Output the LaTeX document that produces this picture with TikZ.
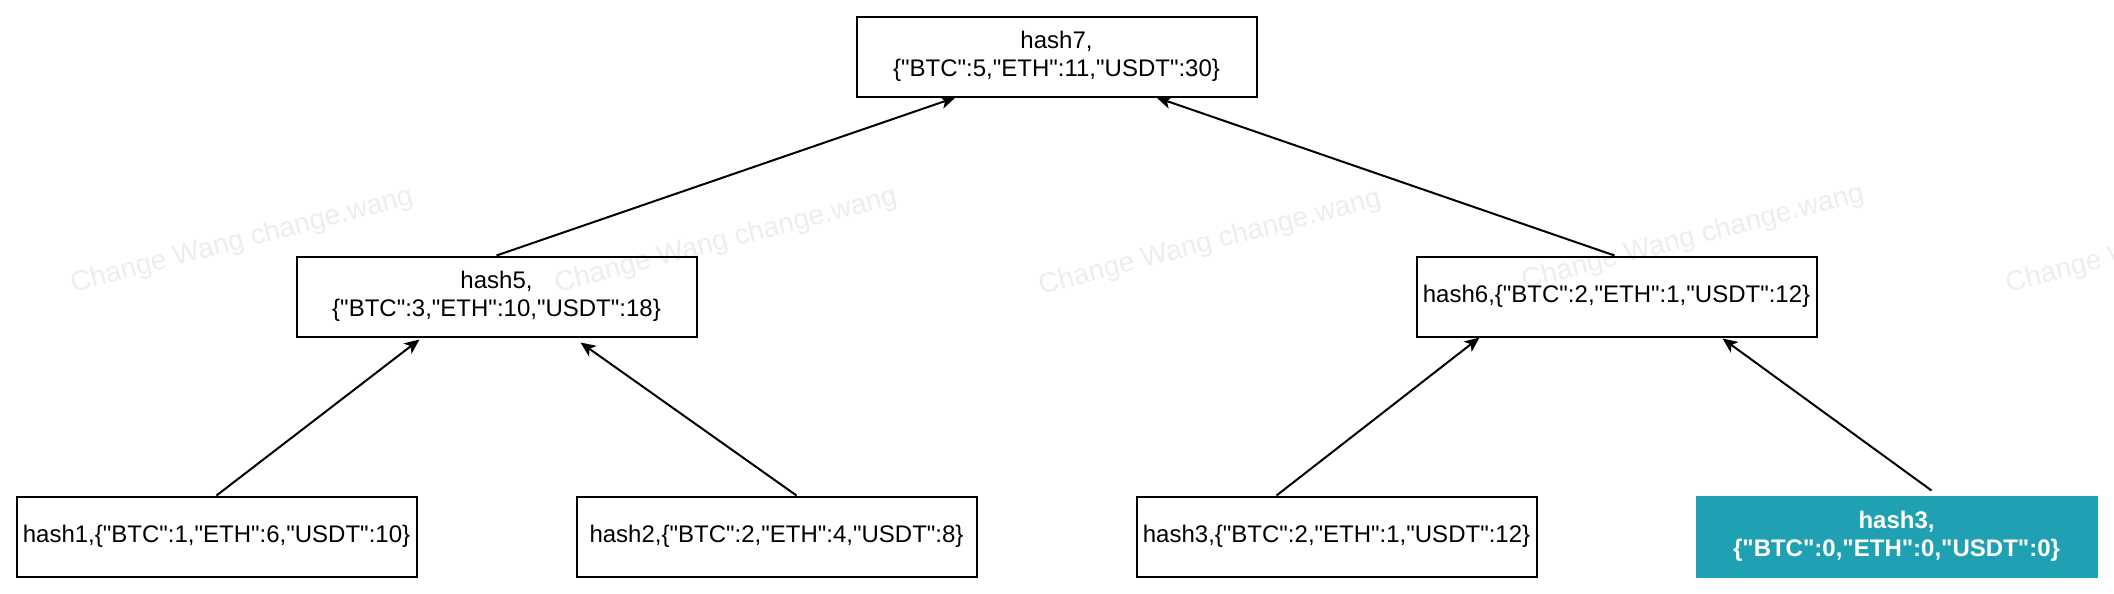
\documentclass[tikz,border=0pt]{standalone}
\usepackage{fontspec}
\setmainfont{Liberation Sans}[Ligatures=TeXOff]
\usetikzlibrary{arrows.meta,calc}
\definecolor{tealbox}{RGB}{32,161,179}
\begin{document}
\begin{tikzpicture}[x=0.5pt,y=-0.5pt,
  box/.style={draw=black, line width=1pt, fill=white, minimum width=200pt, minimum height=40pt,
    inner sep=0pt, align=center, font=\fontsize{12pt}{14pt}\selectfont},
  hlbox/.style={box, draw=tealbox, fill=tealbox, text=white, font=\fontsize{12pt}{14pt}\selectfont\bfseries},
  link/.style={line width=1pt, -{Stealth[length=7.5pt,width=6.5pt,inset=2pt]}},
  wmark/.style={rotate=14.5, font=\fontsize{14pt}{14pt}\selectfont, text=black, text opacity=0.07, inner sep=0pt}]
\path[use as bounding box, fill=white] (0,0) rectangle (2114,594);

\node[box] (h7) at (1056.5,56.5) {hash7,\\\{"BTC":5,"ETH":11,"USDT":30\}};
\node[box] (h5) at (496.5,296.5) {hash5,\\\{"BTC":3,"ETH":10,"USDT":18\}};
\node[box] (h6) at (1616.5,296.5) {hash6,\{"BTC":2,"ETH":1,"USDT":12\}};
\node[box] (h1) at (216.5,536.5) {hash1,\{"BTC":1,"ETH":6,"USDT":10\}};
\node[box] (h2) at (776.5,536.5) {hash2,\{"BTC":2,"ETH":4,"USDT":8\}};
\node[box] (h3) at (1336.5,536.5) {hash3,\{"BTC":2,"ETH":1,"USDT":12\}};
\node[hlbox] (h3b) at (1896.5,536.5) {hash3,\\\{"BTC":0,"ETH":0,"USDT":0\}};

\draw[link] (h5.north) -- ($(h7.south west)+(100,0)$);
\draw[link] ($(h6.north)+(-2,0)$) -- ($(h7.south west)+(301,0)$);
\draw[link] (h1.north) -- ($(h5.south west)+(124,2)$);
\draw[link] ($(h2.north)+(20,0)$) -- ($(h5.south west)+(285,5)$);
\draw[link] ($(h3.north)+(-60,0)$) -- ($(h6.south west)+(64,0)$);
\draw[link] ($(h3b.north)+(35,-5)$) -- ($(h6.south west)+(307,1)$);

\begin{scope}
\clip (0,0) rectangle (2114,594);
\node[wmark] (w1) at (242,241) {Change Wang change.wang};
\node[wmark] (w2) at (726,241) {Change Wang change.wang};
\node[wmark] (w3) at (1210,243) {Change Wang change.wang};
\node[wmark] (w4) at (1693,238) {Change Wang change.wang};
\node[wmark] (w5) at (2177,241) {Change Wang change.wang};
\end{scope}
\end{tikzpicture}
\end{document}
